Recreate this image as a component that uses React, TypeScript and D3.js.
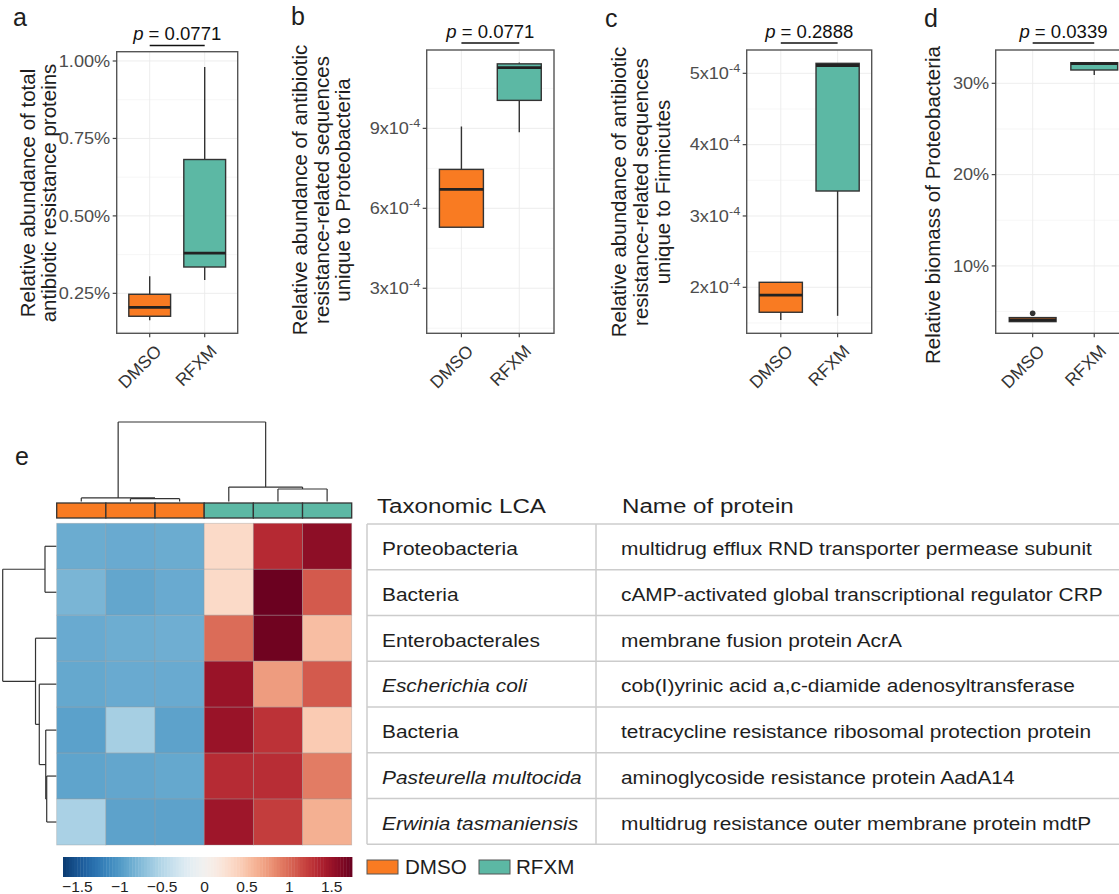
import React from "react";
import * as d3 from "d3";

const FONT = '"Liberation Sans", Arial, Helvetica, sans-serif';
const ORANGE = "#F97B22";
const TEAL = "#5CB8A4";
const INK = "#1e1e1e";

// ---------- box plots (a-d) ----------
const groups = ["DMSO", "RFXM"];

// each row: [lower whisker, Q1, median, Q3, upper whisker]
const totalArpStats = [
  [0.163, 0.176, 0.205, 0.247, 0.305],
  [0.293, 0.335, 0.38, 0.682, 0.981],
]; // % of proteins
const proteoArpStats = [
  [5.29, 5.29, 6.71, 7.46, 9.07],
  [8.85, 10.05, 11.28, 11.42, 11.47],
]; // x10^-4
const firmicutesArpStats = [
  [1.54, 1.65, 1.89, 2.07, 2.07],
  [1.6, 3.35, 5.11, 5.14, 5.14],
]; // x10^-4
const proteoBiomassStats = [
  [3.9, 3.9, 4.1, 4.34, 4.34],
  [30.9, 31.46, 32.15, 32.26, 32.26],
]; // %
const proteoBiomassOutliers = [[4.82], []];
const noOutliers = [[], []];

const pValues = ["0.0771", "0.0771", "0.2888", "0.0339"];

const totalArpTicks = [0.25, 0.5, 0.75, 1.0];
const proteoArpTicks = [3, 6, 9];
const firmicutesArpTicks = [2, 3, 4, 5];
const biomassTicks = [10, 20, 30];

const totalArpDomain = [0.121, 1.03];
const proteoArpDomain = [1.31, 11.94];
const firmicutesArpDomain = [1.355, 5.327];
const biomassDomain = [2.62, 33.65];

const totalArpTitle = ["Relative abundance of total", "antibiotic resistance proteins"];
const proteoArpTitle = [
  "Relative abundance of antibiotic",
  "resistance-related sequences",
  "unique to Proteobacteria",
];
const firmicutesArpTitle = [
  "Relative abundance of antibiotic",
  "resistance-related sequences",
  "unique to Firmicutes",
];
const biomassTitle = ["Relative biomass of Proteobacteria"];

// ---------- heatmap (e) ----------
const sampleGroups = ["DMSO", "DMSO", "DMSO", "RFXM", "RFXM", "RFXM"];
const taxa = [
  "Proteobacteria",
  "Bacteria",
  "Enterobacterales",
  "Escherichia coli",
  "Bacteria",
  "Pasteurella multocida",
  "Erwinia tasmaniensis",
];
const italicTaxa = [false, false, false, true, false, true, true];
const proteins = [
  "multidrug efflux RND transporter permease subunit",
  "cAMP-activated global transcriptional regulator CRP",
  "membrane fusion protein AcrA",
  "cob(I)yrinic acid a,c-diamide adenosyltransferase",
  "tetracycline resistance ribosomal protection protein",
  "aminoglycoside resistance protein AadA14",
  "multidrug resistance outer membrane protein mdtP",
];
// row-scaled abundance (z-score)
const heatValues = [
  [-0.87, -0.88, -0.87, 0.32, 1.33, 1.56],
  [-0.8, -0.91, -0.88, 0.32, 1.72, 1.07],
  [-0.88, -0.86, -0.85, 0.98, 1.7, 0.53],
  [-0.9, -0.88, -0.88, 1.5, 0.73, 1.07],
  [-0.95, -0.58, -0.94, 1.5, 1.28, 0.44],
  [-0.93, -0.91, -0.9, 1.32, 1.31, 0.9],
  [-0.56, -0.94, -0.94, 1.47, 1.22, 0.62],
];
// hclust-style merges: negative = leaf (1-based), positive = earlier merge
const colMerges = [[-2, -3], [-1, 1], [-5, -6], [-4, 3], [2, 4]];
const colHeights = [0.35, 0.45, 1.57, 1.82, 10];
const rowMerges = [[-1, -2], [-6, -7], [-5, 2], [-4, 3], [-3, 4], [1, 5]];
const rowHeights = [2.14, 1.82, 2.0, 3.2, 3.9, 10];

const colorbarTicks = [-1.5, -1, -0.5, 0, 0.5, 1, 1.5];
const colorbarRange = [-1.67, 1.74];
const colorLimit = 1.74;

const heatColor = (v: number) =>
  d3.interpolateRdBu(Math.max(0, Math.min(1, 0.5 - v / (2 * colorLimit))));

function Txt(props: any) {
  const {
    x, y, sx = 1, rotate = 0, size, anchor = "start", fill = INK,
    italic = false, children,
  } = props;
  return (
    <text
      transform={`translate(${x},${y}) scale(${sx},1) rotate(${rotate})`}
      fontSize={size}
      textAnchor={anchor}
      fill={fill}
      fontStyle={italic ? "italic" : "normal"}
    >
      {children}
    </text>
  );
}

function BoxPanel(props: any) {
  const {
    x0, x1, y0, y1, domain, ticks, fmt, stats, outliers, p, pLineY, pTextY,
    title, titleX, titleY, letter, letterX, letterY,
  } = props;
  const x = d3.scalePoint<string>().domain(groups).range([x0, x1]).padding(0.6);
  const y = d3.scaleLinear().domain(domain).range([y1, y0]);
  const step = x.step();
  const bw = step * 0.76;
  const tStep = ticks[1] - ticks[0];
  const minors = d3
    .range(ticks.length + 1)
    .map((i) => ticks[0] - tStep / 2 + i * tStep)
    .filter((v) => v > domain[0] && v < domain[1]);
  const cx0 = x(groups[0])!;
  const cx1 = x(groups[1])!;
  return (
    <g>
      <Txt x={letterX} y={letterY} size={25}>{letter}</Txt>
      {/* grid */}
      {minors.map((v, i) => (
        <line key={"mn" + i} x1={x0} x2={x1} y1={y(v)} y2={y(v)} stroke="#f2f2f2" strokeWidth={0.7} />
      ))}
      {ticks.map((v: number, i: number) => (
        <line key={"mj" + i} x1={x0} x2={x1} y1={y(v)} y2={y(v)} stroke="#ebebeb" strokeWidth={0.9} />
      ))}
      {groups.map((g) => (
        <line key={"vg" + g} x1={x(g)} x2={x(g)} y1={y0} y2={y1} stroke="#ebebeb" strokeWidth={0.9} />
      ))}
      {/* boxes */}
      {stats.map((s: number[], i: number) => {
        const cx = x(groups[i])!;
        const [lo, q1, med, q3, hi] = s;
        return (
          <g key={"b" + i}>
            <line x1={cx} x2={cx} y1={y(lo)} y2={y(q1)} stroke="#333" strokeWidth={1.4} />
            <line x1={cx} x2={cx} y1={y(q3)} y2={y(hi)} stroke="#333" strokeWidth={1.4} />
            <rect
              x={cx - bw / 2}
              y={y(q3)}
              width={bw}
              height={Math.max(0.5, y(q1) - y(q3))}
              fill={i === 0 ? ORANGE : TEAL}
              stroke="#333"
              strokeWidth={1.4}
            />
            <line x1={cx - bw / 2} x2={cx + bw / 2} y1={y(med)} y2={y(med)} stroke="#222" strokeWidth={2.8} />
            {outliers[i].map((o: number, k: number) => (
              <circle key={k} cx={cx} cy={y(o)} r={2.8} fill="#333" />
            ))}
          </g>
        );
      })}
      {/* panel border */}
      <rect x={x0} y={y0} width={x1 - x0} height={y1 - y0} fill="none" stroke="#555" strokeWidth={1.4} />
      {/* y axis */}
      {ticks.map((v: number, i: number) => (
        <g key={"yt" + i}>
          <line x1={x0 - 4} x2={x0} y1={y(v)} y2={y(v)} stroke="#444" strokeWidth={1.2} />
          <Txt x={x0 - 6.5} y={y(v) + 5.8} sx={1.1} size={16.5} anchor="end" fill="#4d4d4d">
            {fmt(v)}
          </Txt>
        </g>
      ))}
      {/* x axis */}
      {groups.map((g) => (
        <g key={"xt" + g}>
          <line x1={x(g)} x2={x(g)} y1={y1} y2={y1 + 4} stroke="#444" strokeWidth={1.2} />
          <Txt x={x(g)! + 13} y={y1 + 19} rotate={-45} size={17.5} anchor="end" fill="#333">
            {g}
          </Txt>
        </g>
      ))}
      {/* y title */}
      {title.map((line: string, i: number) => (
        <Txt key={"tt" + i} x={titleX[i]} y={titleY} rotate={-90} size={20.5} anchor="middle" fill={INK}>
          {line}
        </Txt>
      ))}
      {/* significance bracket */}
      <line x1={cx0} x2={cx1} y1={pLineY} y2={pLineY} stroke="#111" strokeWidth={1.5} />
      <Txt x={(cx0 + cx1) / 2} y={pTextY} sx={1.06} size={17.5} anchor="middle" fill="#111">
        <tspan fontStyle="italic">p</tspan>
        <tspan>{" = " + p}</tspan>
      </Txt>
    </g>
  );
}

const pctFmt2 = (v: number) => v.toFixed(2) + "%";
const pctFmt0 = (v: number) => v.toFixed(0) + "%";
const sciFmt = (v: number) => (
  <>
    <tspan>{v + "x10"}</tspan>
    <tspan dy={-7} fontSize={11.5}>-4</tspan>
  </>
);

type Seg = [number, number, number, number];

function dendroSegments(merges: number[][], heights: number[], leafPos: number[]) {
  const pos: number[] = [];
  const segs: Seg[] = [];
  const info = (id: number): [number, number] =>
    id < 0 ? [leafPos[-id - 1], 0] : [pos[id - 1], heights[id - 1]];
  merges.forEach(([a, b], k) => {
    const [pa, ha] = info(a);
    const [pb, hb] = info(b);
    const h = heights[k];
    segs.push([pa, ha, pa, h], [pb, hb, pb, h], [pa, h, pb, h]);
    pos.push((pa + pb) / 2);
  });
  return segs;
}

function HeatmapPanel() {
  const cols = d3.range(sampleGroups.length);
  const rows = d3.range(heatValues.length);
  const xb = d3.scaleBand<number>().domain(cols).range([56.7, 351.7]);
  const yb = d3.scaleBand<number>().domain(rows).range([523.3, 845]);
  const colH = d3.scaleLinear().domain([0, 10]).range([501.5, 422]);
  const rowH = d3.scaleLinear().domain([0, 10]).range([56.5, 2.7]);
  const colSegs = dendroSegments(colMerges, colHeights, cols.map((c) => xb(c)! + xb.bandwidth() / 2));
  const rowSegs = dendroSegments(rowMerges, rowHeights, rows.map((r) => yb(r)! + yb.bandwidth() / 2));

  const cbX = d3.scaleLinear().domain(colorbarRange).range([63, 352]);
  const cbSteps = d3.range(100).map(
    (i) => colorbarRange[0] + ((colorbarRange[1] - colorbarRange[0]) * (i + 0.5)) / 100
  );
  const cbW = (352 - 63) / 100;

  // table
  const tableTop = 524;
  const rowStep = (844.3 - 524) / taxa.length;
  const tableLines = d3.range(taxa.length + 1).map((i) => tableTop + i * rowStep);

  return (
    <g>
      <Txt x={15} y={465} size={25}>e</Txt>
      {/* column dendrogram */}
      {colSegs.map((s, i) => (
        <line key={"cd" + i} x1={s[0]} x2={s[2]} y1={colH(s[1])} y2={colH(s[3])} stroke="#333" strokeWidth={1.2} />
      ))}
      {/* row dendrogram */}
      {rowSegs.map((s, i) => (
        <line key={"rd" + i} y1={s[0]} y2={s[2]} x1={rowH(s[1])} x2={rowH(s[3])} stroke="#333" strokeWidth={1.2} />
      ))}
      {/* annotation bar */}
      {cols.map((c) => (
        <rect
          key={"an" + c}
          x={xb(c)}
          y={503}
          width={xb.bandwidth()}
          height={15}
          fill={sampleGroups[c] === "DMSO" ? ORANGE : TEAL}
          stroke="#333"
          strokeWidth={1.3}
        />
      ))}
      {/* cells */}
      {rows.map((r) =>
        cols.map((c) => (
          <rect
            key={`h${r}-${c}`}
            x={xb(c)}
            y={yb(r)}
            width={xb.bandwidth()}
            height={yb.bandwidth()}
            fill={heatColor(heatValues[r][c])}
            stroke="#9a9a9a"
            strokeOpacity={0.45}
            strokeWidth={0.8}
          />
        ))
      )}
      {/* colour key */}
      {cbSteps.map((v, i) => (
        <rect key={"cb" + i} x={63 + i * cbW} y={857} width={cbW + 0.4} height={20} fill={heatColor(v)} />
      ))}
      {colorbarTicks.map((v) => (
        <Txt key={"cbt" + v} x={cbX(v)} y={892} size={15.5} anchor="middle">
          {v < 0 ? "\u2212" + Math.abs(v) : String(v)}
        </Txt>
      ))}
      {/* table */}
      <Txt x={377} y={513.3} sx={1.15} size={21}>Taxonomic LCA</Txt>
      <Txt x={622} y={513.3} sx={1.15} size={21}>Name of protein</Txt>
      {tableLines.map((ly, i) => (
        <line key={"tl" + i} x1={367} x2={1119} y1={ly} y2={ly} stroke="#cccccc" strokeWidth={1.5} />
      ))}
      <line x1={367} x2={367} y1={tableTop} y2={tableLines[taxa.length]} stroke="#cccccc" strokeWidth={1.5} />
      <line x1={596} x2={596} y1={tableTop} y2={tableLines[taxa.length]} stroke="#cccccc" strokeWidth={1.5} />
      {taxa.map((t, i) => (
        <g key={"tr" + i}>
          <Txt x={382} y={tableLines[i] + 31} sx={1.13} size={18.5} italic={italicTaxa[i]}>
            {t}
          </Txt>
          <Txt x={621} y={tableLines[i] + 31} sx={1.13} size={18.5}>
            {proteins[i]}
          </Txt>
        </g>
      ))}
      {/* legend */}
      {groups.map((g, i) => (
        <g key={"lg" + g}>
          <rect x={367 + i * 112} y={860} width={31} height={14} fill={i === 0 ? ORANGE : TEAL} stroke="#555" strokeWidth={1} />
          <Txt x={405 + i * 111} y={874} sx={1.03} size={20}>{g}</Txt>
        </g>
      ))}
    </g>
  );
}

export default function App() {
  return (
    <svg
      width={1119}
      height={894}
      style={{ position: "absolute", left: 0, top: 0, background: "#fff", fontFamily: FONT }}
    >
      <rect width={1119} height={894} fill="#fff" />
      <BoxPanel
        x0={116.7} x1={237.7} y0={51.7} y1={333.3}
        domain={totalArpDomain} ticks={totalArpTicks} fmt={pctFmt2}
        stats={totalArpStats} outliers={noOutliers} p={pValues[0]}
        pLineY={45.5} pTextY={40}
        title={totalArpTitle} titleX={[35, 56]} titleY={193}
        letter="a" letterX={13} letterY={26}
      />
      <BoxPanel
        x0={426.7} x1={554} y0={50} y1={333.3}
        domain={proteoArpDomain} ticks={proteoArpTicks} fmt={sciFmt}
        stats={proteoArpStats} outliers={noOutliers} p={pValues[1]}
        pLineY={43} pTextY={37.5}
        title={proteoArpTitle} titleX={[307, 329, 350]} titleY={190}
        letter="b" letterX={291} letterY={25}
      />
      <BoxPanel
        x0={746.7} x1={871.7} y0={50} y1={333.3}
        domain={firmicutesArpDomain} ticks={firmicutesArpTicks} fmt={sciFmt}
        stats={firmicutesArpStats} outliers={noOutliers} p={pValues[2]}
        pLineY={43} pTextY={37.5}
        title={firmicutesArpTitle} titleX={[626, 648, 670]} titleY={192}
        letter="c" letterX={605} letterY={27}
      />
      <BoxPanel
        x0={995.7} x1={1131.2} y0={50} y1={333.3}
        domain={biomassDomain} ticks={biomassTicks} fmt={pctFmt0}
        stats={proteoBiomassStats} outliers={proteoBiomassOutliers} p={pValues[3]}
        pLineY={43} pTextY={37.5}
        title={biomassTitle} titleX={[940]} titleY={205}
        letter="d" letterX={924} letterY={27}
      />
      <HeatmapPanel />
    </svg>
  );
}
